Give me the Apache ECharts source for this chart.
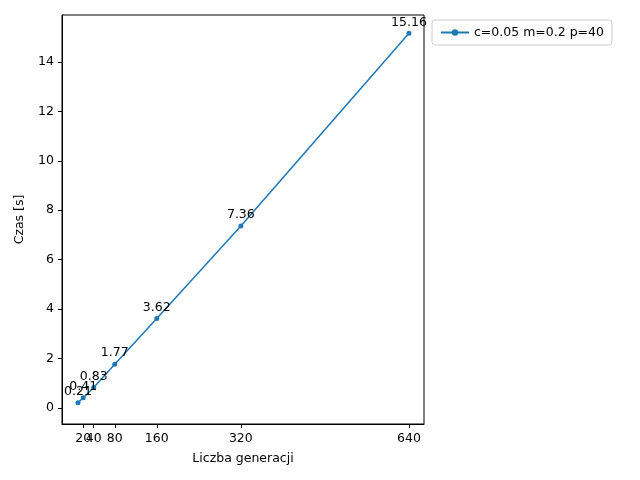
<!DOCTYPE html>
<html lang="pl">
<head>
<meta charset="UTF-8">
<script src="https://cdn.jsdelivr.net/npm/echarts@6/dist/echarts.min.js"></script>
</head>
<body style="margin:0">
<div id="main" style="width:640px;height:480px"></div>
<script>
var generacje = [10, 20, 40, 80, 160, 320, 640];
var czasy = [0.21, 0.41, 0.83, 1.77, 3.62, 7.36, 15.16];
var xTicks = [10, 20, 40, 80, 160, 320, 640];
var yTicks = [0, 2, 4, 6, 8, 10, 12, 14];
var nazwa = 'c=0.05 m=0.2 p=40';

var chart = echarts.init(document.getElementById('main'));
var pts = [];
for (var i = 0; i < generacje.length; i++) pts.push([generacje[i], czasy[i]]);

var font = 'DejaVu Sans';
chart.setOption({
    animation: false,
    textStyle: { fontFamily: font },
    grid: { left: 62, right: 216, top: 15, bottom: 56, show: true, borderColor: '#000', borderWidth: 1 },
    legend: {
        data: [nazwa], left: 432, top: 20, orient: 'vertical',
        borderColor: '#ccc', borderWidth: 1, borderRadius: 3, padding: [6, 8],
        itemWidth: 28, itemHeight: 8,
        textStyle: { fontSize: 12.5, color: '#000', fontFamily: font }
    },
    xAxis: {
        type: 'value', min: -20.4, max: 668.6,
        name: 'Liczba generacji', nameLocation: 'middle', nameGap: 28,
        nameTextStyle: { fontSize: 12.5, color: '#000' },
        splitLine: { show: false },
        axisLine: { onZero: false, lineStyle: { color: '#000' } },
        axisTick: { show: true, inside: false, length: 4, lineStyle: { color: '#000' }, customValues: xTicks },
        axisLabel: { color: '#000', fontSize: 12.5, hideOverlap: false, customValues: xTicks }
    },
    yAxis: {
        type: 'value', min: -0.65, max: 15.9,
        name: 'Czas [s]', nameLocation: 'middle', nameGap: 36, nameRotate: 90,
        nameTextStyle: { fontSize: 12.5, color: '#000' },
        splitLine: { show: false },
        axisLine: { show: true, onZero: false, lineStyle: { color: '#000' } },
        axisTick: { show: true, length: 4, lineStyle: { color: '#000' }, customValues: yTicks },
        axisLabel: { color: '#000', fontSize: 12.5, customValues: yTicks }
    },
    series: [{
        name: nazwa, type: 'line', data: pts,
        symbol: 'circle', symbolSize: 5,
        itemStyle: { color: '#1f77b4' },
        lineStyle: { color: '#1f77b4', width: 1.5 },
        label: { show: true, position: 'top', distance: 2, color: '#000', fontSize: 12.5,
            formatter: function (p) { return p.value[1].toFixed(2); } }
    }]
});
</script>
</body>
</html>
